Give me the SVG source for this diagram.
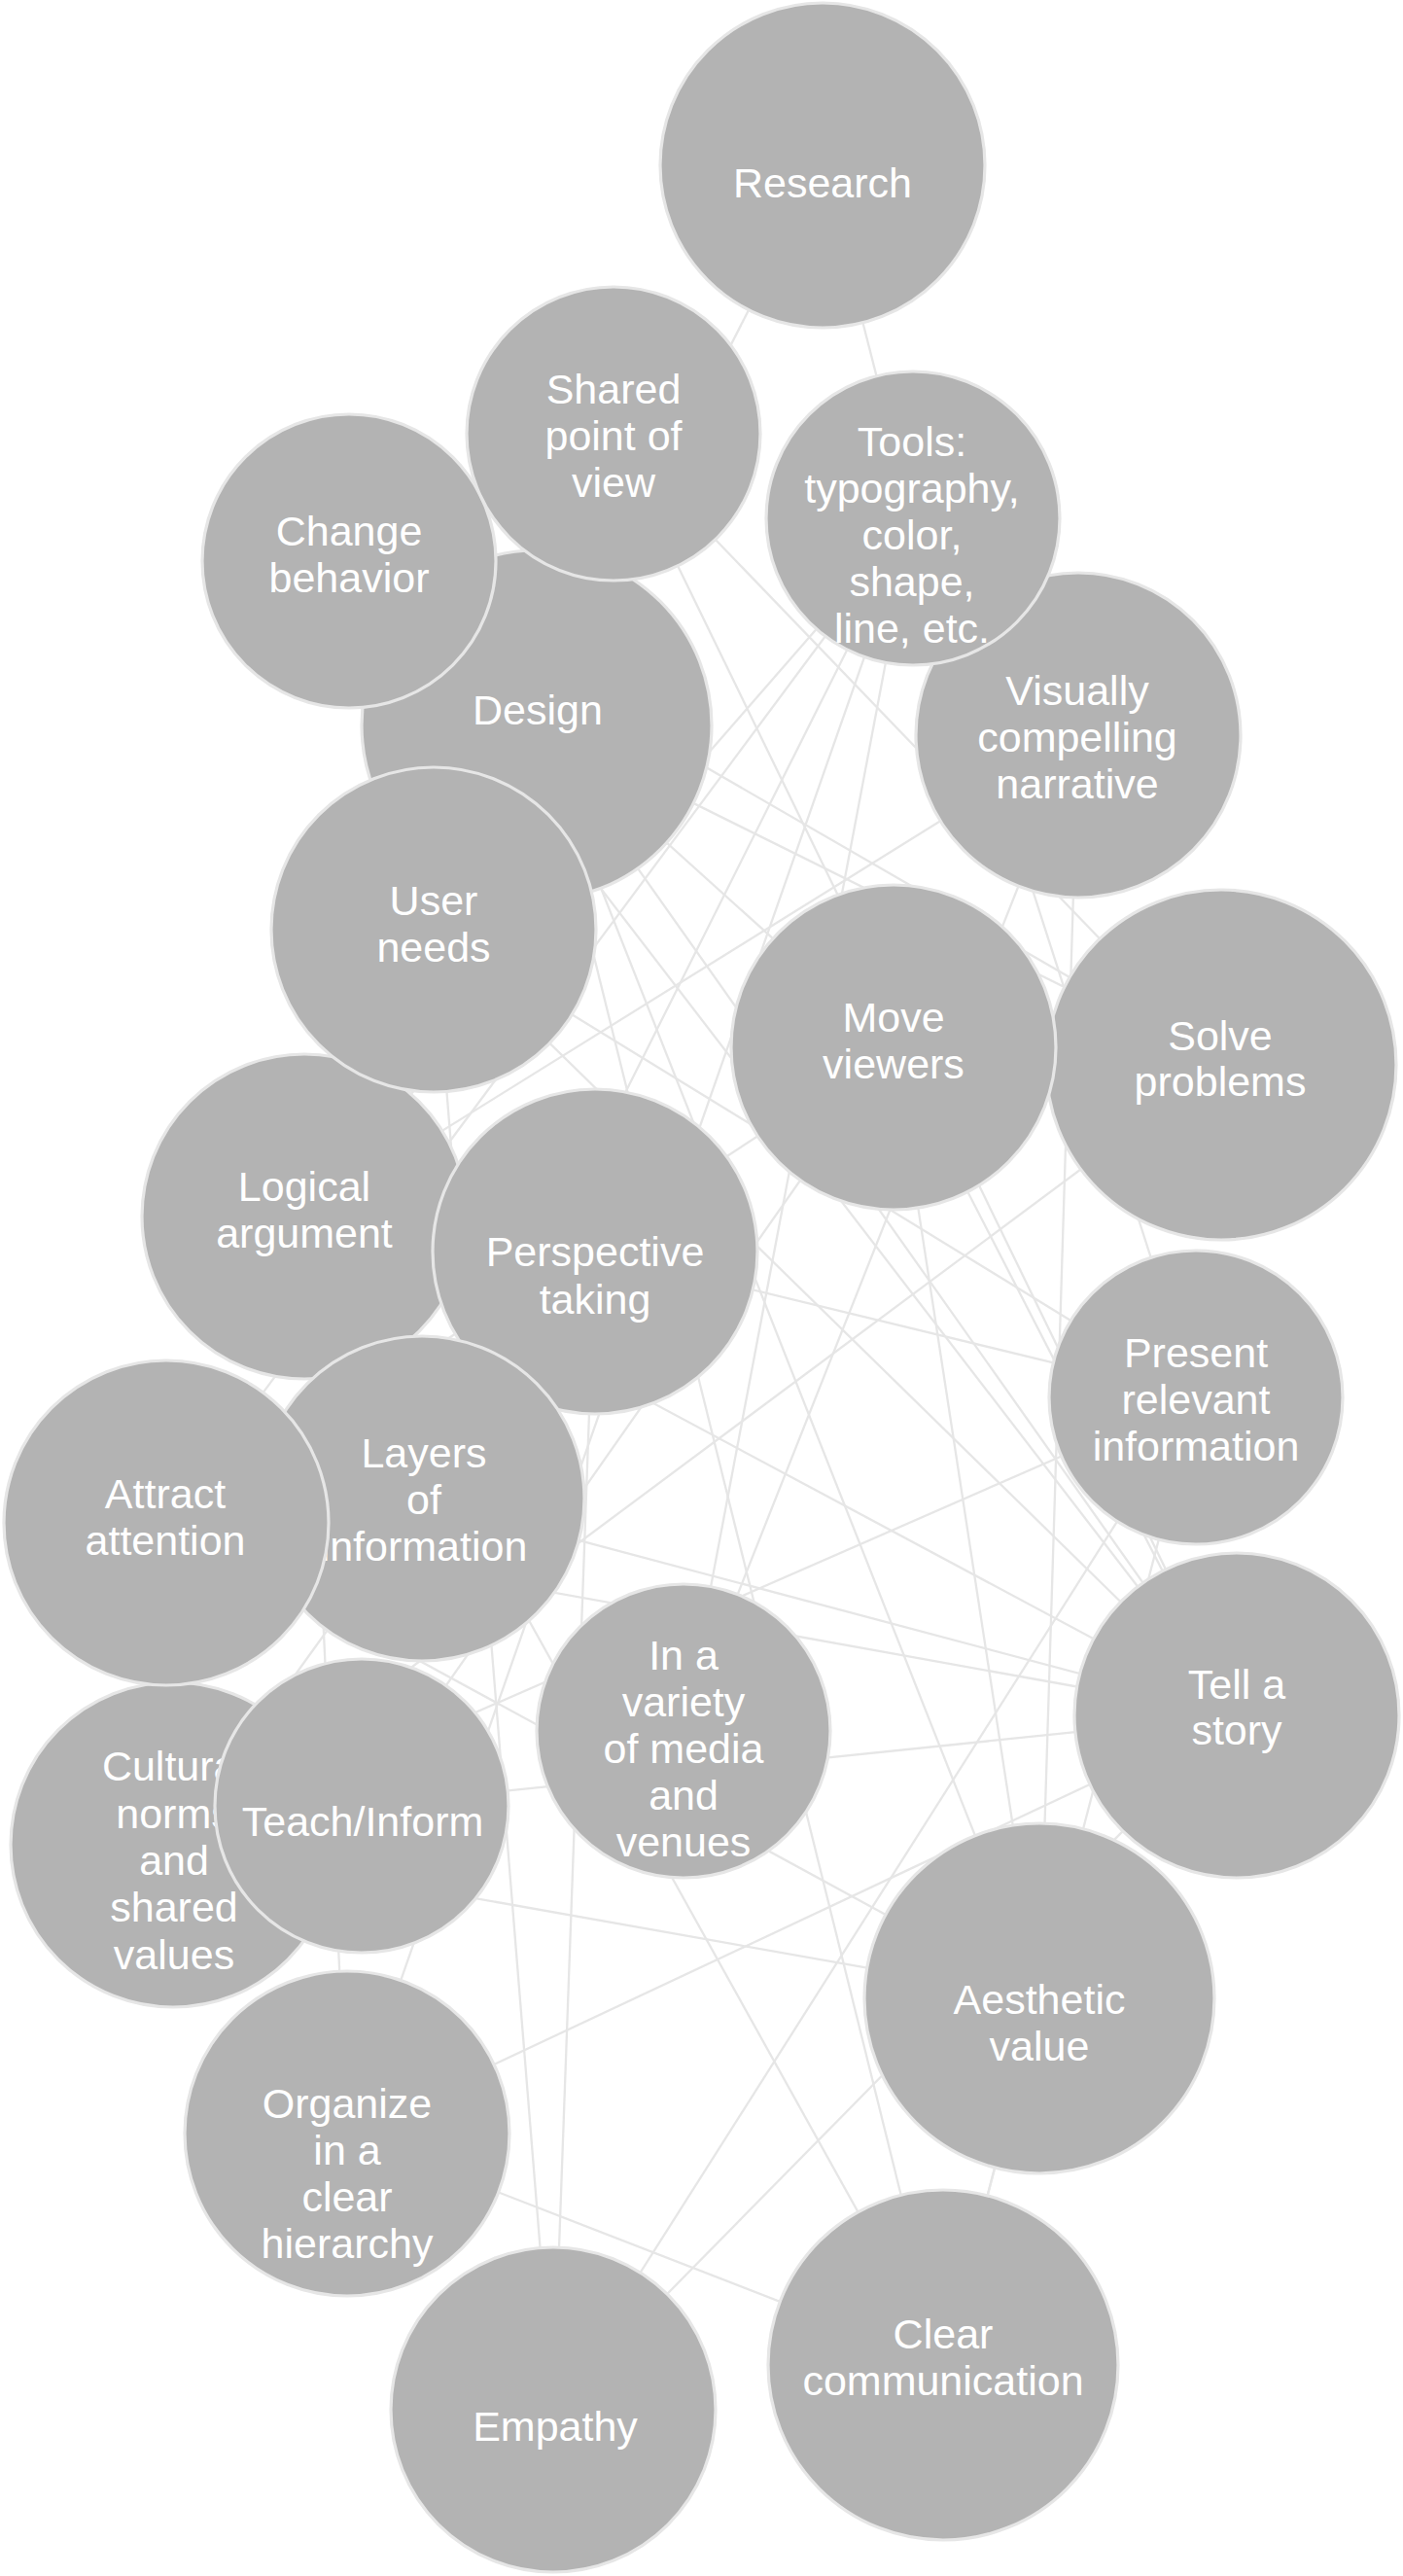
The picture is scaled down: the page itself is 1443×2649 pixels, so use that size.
<svg xmlns="http://www.w3.org/2000/svg" width="1443" height="2649" viewBox="0 0 1443 2649">
<style>
.n{fill:#b3b3b3;stroke:#e6e6e6;stroke-width:3.2}
.t{font-family:"Liberation Sans",Arial,sans-serif;font-size:43px;fill:#ffffff;text-anchor:middle}
#edges line{stroke:#e6e6e6;stroke-width:2.3}
</style>
<rect width="1443" height="2649" fill="#ffffff"/>
<g id="edges">
<line x1="846" y1="170" x2="552" y2="746"/>
<line x1="846" y1="170" x2="939" y2="533"/>
<line x1="631" y1="446" x2="1256" y2="1095"/>
<line x1="631" y1="446" x2="1272" y2="1764"/>
<line x1="552" y1="746" x2="1069" y2="2055"/>
<line x1="359" y1="577" x2="1272" y2="1764"/>
<line x1="939" y1="533" x2="171" y2="1566"/>
<line x1="552" y1="746" x2="919" y2="1077"/>
<line x1="446" y1="956" x2="1230" y2="1437"/>
<line x1="552" y1="746" x2="970" y2="2432"/>
<line x1="313" y1="1251" x2="1109" y2="756"/>
<line x1="939" y1="533" x2="434" y2="1541"/>
<line x1="446" y1="956" x2="1272" y2="1764"/>
<line x1="446" y1="956" x2="569" y2="2478"/>
<line x1="939" y1="533" x2="313" y2="1251"/>
<line x1="939" y1="533" x2="703" y2="1780"/>
<line x1="612" y1="1287" x2="569" y2="2478"/>
<line x1="1109" y1="756" x2="703" y2="1780"/>
<line x1="1109" y1="756" x2="1069" y2="2055"/>
<line x1="939" y1="533" x2="1230" y2="1437"/>
<line x1="359" y1="577" x2="1256" y2="1095"/>
<line x1="1256" y1="1095" x2="178" y2="1897"/>
<line x1="919" y1="1077" x2="1272" y2="1764"/>
<line x1="919" y1="1077" x2="1069" y2="2055"/>
<line x1="919" y1="1077" x2="372" y2="1857"/>
<line x1="919" y1="1077" x2="171" y2="1566"/>
<line x1="552" y1="746" x2="1256" y2="1095"/>
<line x1="1272" y1="1764" x2="434" y2="1541"/>
<line x1="1272" y1="1764" x2="171" y2="1566"/>
<line x1="1272" y1="1764" x2="372" y2="1857"/>
<line x1="1272" y1="1764" x2="313" y2="1251"/>
<line x1="1230" y1="1437" x2="178" y2="1897"/>
<line x1="1230" y1="1437" x2="569" y2="2478"/>
<line x1="612" y1="1287" x2="1230" y2="1437"/>
<line x1="171" y1="1566" x2="1069" y2="2055"/>
<line x1="1272" y1="1764" x2="357" y2="2194"/>
<line x1="1230" y1="1437" x2="970" y2="2432"/>
<line x1="552" y1="746" x2="1272" y2="1764"/>
<line x1="1069" y1="2055" x2="178" y2="1897"/>
<line x1="313" y1="1251" x2="970" y2="2432"/>
<line x1="1272" y1="1764" x2="569" y2="2478"/>
<line x1="357" y1="2194" x2="970" y2="2432"/>
<line x1="1069" y1="2055" x2="970" y2="2432"/>
<line x1="313" y1="1251" x2="357" y2="2194"/>
<line x1="939" y1="533" x2="357" y2="2194"/>
<line x1="434" y1="1541" x2="178" y2="1897"/>
</g>
<g id="design"><circle class="n" cx="552" cy="746" r="180"/><text class="t" x="553" y="745">Design</text></g>
<g id="visually"><circle class="n" cx="1109" cy="756" r="167"/><text class="t"><tspan x="1108" y="725">Visually</tspan><tspan x="1108" y="773">compelling</tspan><tspan x="1108" y="821">narrative</tspan></text></g>
<g id="solve"><circle class="n" cx="1256" cy="1095" r="180"/><text class="t"><tspan x="1255" y="1080">Solve</tspan><tspan x="1255" y="1127">problems</tspan></text></g>
<g id="logical"><circle class="n" cx="313" cy="1251" r="167"/><text class="t"><tspan x="313" y="1235">Logical</tspan><tspan x="313" y="1283">argument</tspan></text></g>
<g id="perspective"><circle class="n" cx="612" cy="1287" r="167"/><text class="t"><tspan x="612" y="1302">Perspective</tspan><tspan x="612" y="1351">taking</tspan></text></g>
<g id="layers"><circle class="n" cx="434" cy="1541" r="167"/><text class="t"><tspan x="436" y="1509">Layers</tspan><tspan x="436" y="1557">of</tspan><tspan x="436" y="1605">information</tspan></text></g>
<g id="cultural"><circle class="n" cx="178" cy="1897" r="167"/><text class="t"><tspan x="179" y="1831">Cultural</tspan><tspan x="179" y="1880">norms</tspan><tspan x="179" y="1928">and</tspan><tspan x="179" y="1976">shared</tspan><tspan x="179" y="2025">values</tspan></text></g>
<g id="change"><circle class="n" cx="359" cy="577" r="151"/><text class="t"><tspan x="359" y="561">Change</tspan><tspan x="359" y="609">behavior</tspan></text></g>
<g id="shared"><circle class="n" cx="631" cy="446" r="151"/><text class="t"><tspan x="631" y="415">Shared</tspan><tspan x="631" y="463">point of</tspan><tspan x="631" y="511">view</tspan></text></g>
<g id="research"><circle class="n" cx="846" cy="170" r="167"/><text class="t" x="846" y="203">Research</text></g>
<g id="tools"><circle class="n" cx="939" cy="533" r="151"/><text class="t"><tspan x="938" y="469">Tools:</tspan><tspan x="938" y="517">typography,</tspan><tspan x="938" y="565">color,</tspan><tspan x="938" y="613">shape,</tspan><tspan x="938" y="661">line, etc.</tspan></text></g>
<g id="user"><circle class="n" cx="446" cy="956" r="167"/><text class="t"><tspan x="446" y="941">User</tspan><tspan x="446" y="989">needs</tspan></text></g>
<g id="move"><circle class="n" cx="919" cy="1077" r="167"/><text class="t"><tspan x="919" y="1061">Move</tspan><tspan x="919" y="1109">viewers</tspan></text></g>
<g id="present"><circle class="n" cx="1230" cy="1437" r="151"/><text class="t"><tspan x="1230" y="1406">Present</tspan><tspan x="1230" y="1454">relevant</tspan><tspan x="1230" y="1502">information</tspan></text></g>
<g id="attract"><circle class="n" cx="171" cy="1566" r="167"/><text class="t"><tspan x="170" y="1551">Attract</tspan><tspan x="170" y="1599">attention</tspan></text></g>
<g id="teach"><circle class="n" cx="372" cy="1857" r="151"/><text class="t" x="373" y="1888">Teach/Inform</text></g>
<g id="variety"><circle class="n" cx="703" cy="1780" r="151"/><text class="t"><tspan x="703" y="1717">In a</tspan><tspan x="703" y="1765">variety</tspan><tspan x="703" y="1813">of media</tspan><tspan x="703" y="1861">and</tspan><tspan x="703" y="1909">venues</tspan></text></g>
<g id="story"><circle class="n" cx="1272" cy="1764" r="167"/><text class="t"><tspan x="1272" y="1747">Tell a</tspan><tspan x="1272" y="1794">story</tspan></text></g>
<g id="aesthetic"><circle class="n" cx="1069" cy="2055" r="180"/><text class="t"><tspan x="1069" y="2071">Aesthetic</tspan><tspan x="1069" y="2119">value</tspan></text></g>
<g id="organize"><circle class="n" cx="357" cy="2194" r="167"/><text class="t"><tspan x="357" y="2178">Organize</tspan><tspan x="357" y="2226">in a</tspan><tspan x="357" y="2274">clear</tspan><tspan x="357" y="2322">hierarchy</tspan></text></g>
<g id="empathy"><circle class="n" cx="569" cy="2478" r="167"/><text class="t" x="571" y="2510">Empathy</text></g>
<g id="clear"><circle class="n" cx="970" cy="2432" r="180"/><text class="t"><tspan x="970" y="2415">Clear</tspan><tspan x="970" y="2463">communication</tspan></text></g>
</svg>
